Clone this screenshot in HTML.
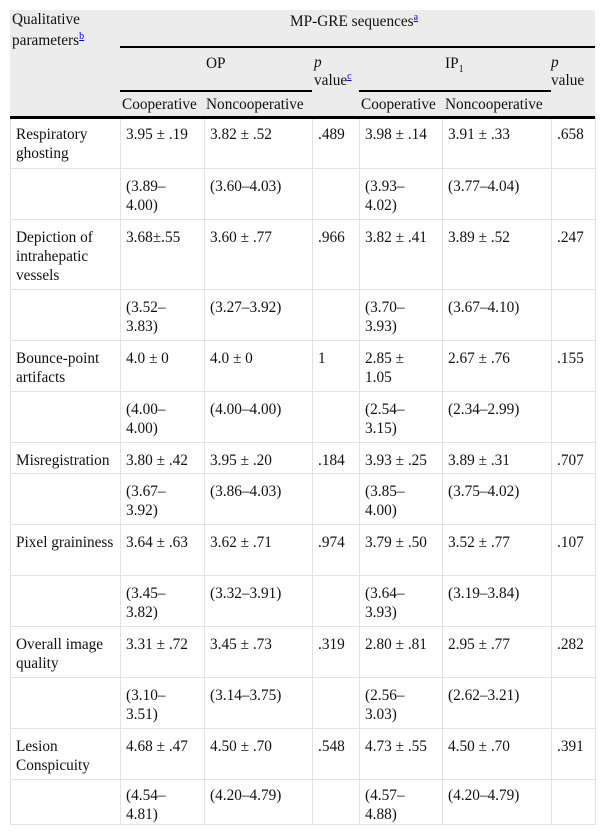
<!DOCTYPE html>
<html><head><meta charset="utf-8"><style>
body{margin:0;width:603px;height:836px;background:#fff;font-family:"Liberation Serif",serif;font-size:15.3px;color:#111;position:relative;overflow:hidden}
.hdr{position:absolute;left:10px;top:10px;width:585px;height:107px;background:#ececec}
.t{position:absolute;line-height:19px}
.bl{position:absolute;background:#000;height:2px}
sup{line-height:0;font-size:10px}
a{color:#00e;text-decoration:underline;font-size:10px}
table{position:absolute;left:10px;top:117px;width:585px;border-collapse:collapse;table-layout:fixed;border:none}
td{border:1px solid #e2e2e2;vertical-align:top;padding:8px 4px 0 5px;line-height:19px;overflow:hidden;white-space:normal}
tr:first-child td{border-top:none}
tr.r2{height:51px}tr.r3{height:70px}tr.r1{height:31px}tr.rl{height:44px}
tr.rl td{padding-top:6px}
</style></head><body>
<div class="hdr"></div>
<div class="t" style="left:12px;top:9px;line-height:21px">Qualitative<br>parameters<sup><a>b</a></sup></div>
<div class="t" style="left:290px;top:12px">MP-GRE sequences<sup><a>a</a></sup></div>
<div class="bl" style="left:120px;top:46px;width:475px"></div>
<div class="t" style="left:206px;top:54px">OP</div>
<div class="t" style="left:314px;top:54px;line-height:18px"><i>p</i><br>value<sup><a>c</a></sup></div>
<div class="t" style="left:445px;top:54px">IP<sub style="font-size:10px;line-height:0">1</sub></div>
<div class="t" style="left:551px;top:54px;line-height:18px"><i>p</i><br>value</div>
<div class="bl" style="left:120px;top:90px;width:192px"></div>
<div class="bl" style="left:359px;top:90px;width:192px"></div>
<div class="t" style="left:122px;top:95px">Cooperative</div>
<div class="t" style="left:206px;top:95px">Noncooperative</div>
<div class="t" style="left:361px;top:95px">Cooperative</div>
<div class="t" style="left:445px;top:95px">Noncooperative</div>
<div class="bl" style="left:10px;top:116px;width:585px;height:3px;z-index:2"></div>
<table>
<colgroup><col style="width:110px"><col style="width:84px"><col style="width:108px"><col style="width:47px"><col style="width:83px"><col style="width:109px"><col style="width:44px"></colgroup>
<tr class="r2"><td>Respiratory ghosting</td><td>3.95 ± .19</td><td>3.82 ± .52</td><td>.489</td><td>3.98 ± .14</td><td>3.91 ± .33</td><td>.658</td></tr>
<tr class="r2"><td></td><td>(3.89–<br>4.00)</td><td>(3.60–4.03)</td><td></td><td>(3.93–<br>4.02)</td><td>(3.77–4.04)</td><td></td></tr>
<tr class="r3"><td>Depiction of intrahepatic vessels</td><td>3.68±.55</td><td>3.60 ± .77</td><td>.966</td><td>3.82 ± .41</td><td>3.89 ± .52</td><td>.247</td></tr>
<tr class="r2"><td></td><td>(3.52–<br>3.83)</td><td>(3.27–3.92)</td><td></td><td>(3.70–<br>3.93)</td><td>(3.67–4.10)</td><td></td></tr>
<tr class="r2"><td>Bounce-point artifacts</td><td>4.0 ± 0</td><td>4.0 ± 0</td><td>1</td><td>2.85 ±<br>1.05</td><td>2.67 ± .76</td><td>.155</td></tr>
<tr class="r2"><td></td><td>(4.00–<br>4.00)</td><td>(4.00–4.00)</td><td></td><td>(2.54–<br>3.15)</td><td>(2.34–2.99)</td><td></td></tr>
<tr class="r1"><td>Misregistration</td><td>3.80 ± .42</td><td>3.95 ± .20</td><td>.184</td><td>3.93 ± .25</td><td>3.89 ± .31</td><td>.707</td></tr>
<tr class="r2"><td></td><td>(3.67–<br>3.92)</td><td>(3.86–4.03)</td><td></td><td>(3.85–<br>4.00)</td><td>(3.75–4.02)</td><td></td></tr>
<tr class="r2"><td>Pixel graininess</td><td>3.64 ± .63</td><td>3.62 ± .71</td><td>.974</td><td>3.79 ± .50</td><td>3.52 ± .77</td><td>.107</td></tr>
<tr class="r2"><td></td><td>(3.45–<br>3.82)</td><td>(3.32–3.91)</td><td></td><td>(3.64–<br>3.93)</td><td>(3.19–3.84)</td><td></td></tr>
<tr class="r2"><td>Overall image quality</td><td>3.31 ± .72</td><td>3.45 ± .73</td><td>.319</td><td>2.80 ± .81</td><td>2.95 ± .77</td><td>.282</td></tr>
<tr class="r2"><td></td><td>(3.10–<br>3.51)</td><td>(3.14–3.75)</td><td></td><td>(2.56–<br>3.03)</td><td>(2.62–3.21)</td><td></td></tr>
<tr class="r2"><td>Lesion Conspicuity</td><td>4.68 ± .47</td><td>4.50 ± .70</td><td>.548</td><td>4.73 ± .55</td><td>4.50 ± .70</td><td>.391</td></tr>
<tr class="rl"><td></td><td>(4.54–<br>4.81)</td><td>(4.20–4.79)</td><td></td><td>(4.57–<br>4.88)</td><td>(4.20–4.79)</td><td></td></tr>
</table>
</body></html>
